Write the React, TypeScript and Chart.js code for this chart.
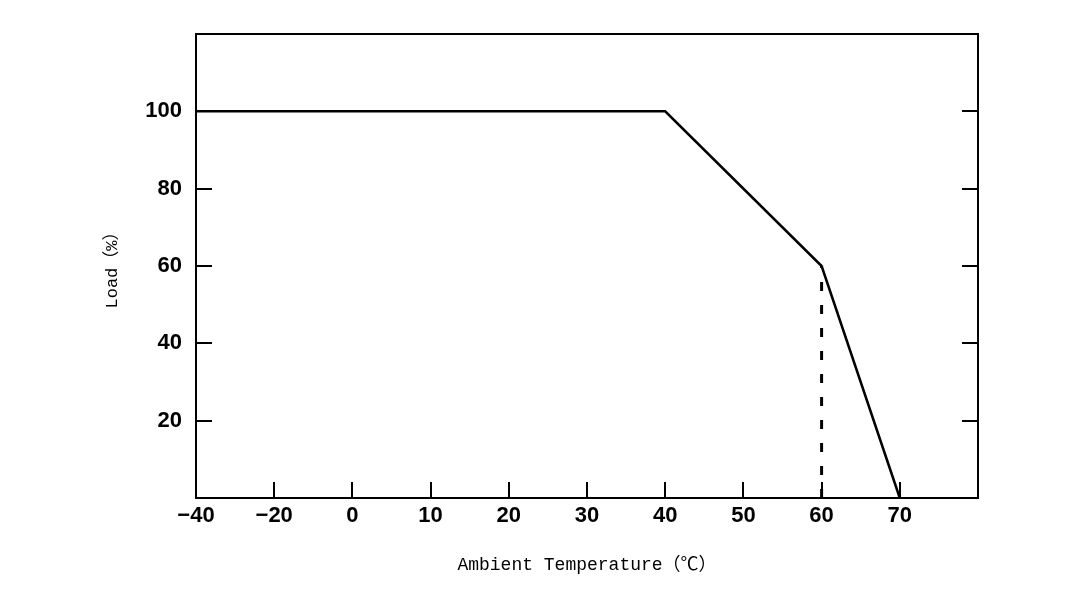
import React, { useEffect, useRef } from "react";
import { Chart, registerables } from "chart.js";

Chart.register(...registerables);

// Category positions on the (non-linear) temperature axis
const temperatureCategories = ["-40", "-20", "0", "10", "20", "30", "40", "50", "60", "70", "80"];
// Derating curve
const curveTemps = ["-40", "40", "60", "70"];
const curveLoads = [100, 100, 60, 0];
// Dashed reference line at 60 °C
const refTemps = ["60", "60"];
const refLoads = [0, 60];
// Y ticks shown
const yTickLabels = [20, 40, 60, 80, 100];

const framePlugin = {
  id: "frameTicks",
  afterDatasetsDraw(chart: any) {
    const { ctx, chartArea, scales } = chart;
    const { left, right, top, bottom } = chartArea;
    const x = scales.x;
    const y = scales.y;
    ctx.save();
    ctx.strokeStyle = "#000";
    ctx.lineWidth = 2;
    ctx.strokeRect(left, top, right - left, bottom - top);
    ctx.beginPath();
    const n = x.ticks.length;
    for (let i = 1; i < n - 1; i++) {
      const px = Math.round(x.getPixelForTick(i));
      ctx.moveTo(px, bottom);
      ctx.lineTo(px, bottom - 16);
    }
    y.ticks.forEach((t: any) => {
      if (yTickLabels.includes(t.value)) {
        const py = Math.round(y.getPixelForValue(t.value));
        ctx.moveTo(left, py);
        ctx.lineTo(left + 16, py);
        ctx.moveTo(right, py);
        ctx.lineTo(right - 16, py);
      }
    });
    ctx.stroke();
    ctx.restore();
  },
};

export default function App() {
  const ref = useRef<HTMLCanvasElement | null>(null);
  useEffect(() => {
    document.body.style.margin = "0";
    const canvas = ref.current!;
    const chart = new Chart(canvas, {
      type: "line",
      data: {
        labels: temperatureCategories,
        datasets: [
          {
            data: curveTemps.map((t, i) => ({ x: t, y: curveLoads[i] })) as any,
            borderColor: "#000",
            borderWidth: 2.5,
            pointRadius: 0,
            tension: 0,
            fill: false,
            clip: false as any,
          },
          {
            data: refTemps.map((t, i) => ({ x: t, y: refLoads[i] })) as any,
            borderColor: "#000",
            borderWidth: 3,
            borderDash: [9, 14],
            pointRadius: 0,
            tension: 0,
            fill: false,
          },
        ],
      },
      options: {
        animation: false,
        responsive: false,
        devicePixelRatio: 1,
        layout: { padding: { top: 34, right: 112, left: 0, bottom: 0 } },
        plugins: { legend: { display: false }, tooltip: { enabled: false } },
        scales: {
          x: {
            type: "category",
            offset: false,
            grid: { display: false, drawTicks: false },
            border: { display: false },
            ticks: {
              color: "#000",
              autoSkip: false,
              maxRotation: 0,
              padding: 5,
              font: { family: "Liberation Sans", size: 22, weight: "bold" },
              callback: (v: any, i: number) => {
                const l = temperatureCategories[i];
                if (l === "80") return "";
                return l.replace("-", "\u2212");
              },
            },
            title: {
              display: true,
              text: "Ambient Temperature（℃）",
              color: "#000",
              font: { family: "Liberation Mono, Noto Sans CJK SC", size: 18 },
              padding: { top: 0, bottom: 16 },
            },
            afterFit: (s: any) => {
              s.height = 94;
            },
          },
          y: {
            min: 0,
            max: 120,
            grid: { display: false, drawTicks: false },
            border: { display: false },
            ticks: {
              stepSize: 20,
              color: "#000",
              padding: 14,
              font: { family: "Liberation Sans", size: 22, weight: "bold" },
              callback: (v: any) => (yTickLabels.includes(v) ? String(v) : ""),
            },
            title: {
              display: true,
              text: "Load（%）",
              color: "#000",
              font: { family: "Liberation Mono, Noto Sans CJK SC", size: 17 },
              padding: { top: 102, bottom: 0 },
            },
            afterFit: (s: any) => {
              s.width = 196;
            },
          },
        },
      },
      plugins: [framePlugin],
    });
    return () => chart.destroy();
  }, []);
  return <canvas ref={ref} width={1090} height={592} style={{ display: "block" }} />;
}
